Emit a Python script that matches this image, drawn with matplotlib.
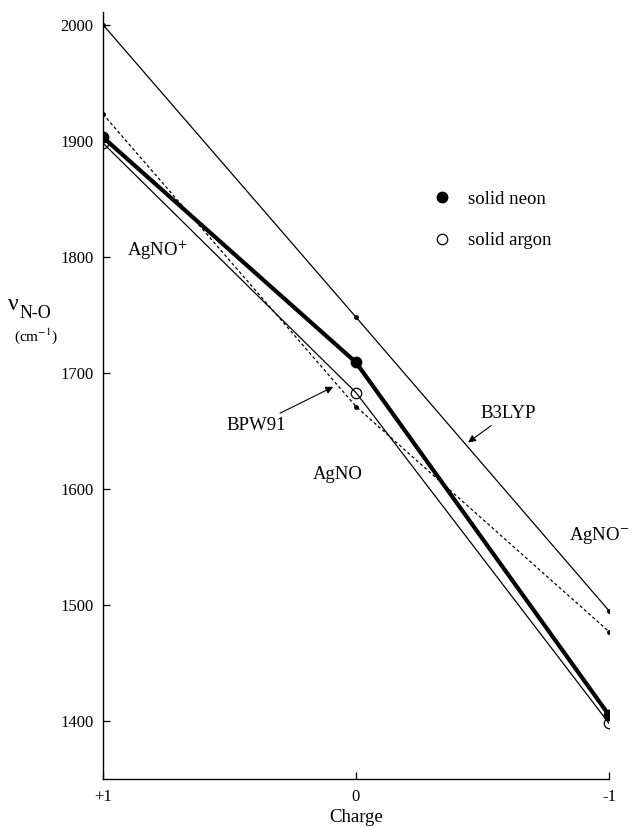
import matplotlib.pyplot as plt
from matplotlib.lines import Line2D

plt.rcParams['font.family'] = ['Liberation Serif', 'DejaVu Serif']
plt.rcParams['mathtext.fontset'] = 'stix'

# charge of the species, +1 = AgNO+, 0 = AgNO, -1 = AgNO-
charge = [1, 0, -1]
charge_labels = ['+1', '0', '-1']
neon = [1903, 1709, 1405]     # solid neon
argon = [1898, 1683, 1398]    # solid argon
b3lyp = [2000, 1748, 1495]    # B3LYP calc
bpw91 = [1923, 1671, 1477]    # BPW91 calc
yticks = [1400, 1500, 1600, 1700, 1800, 1900, 2000]

fig = plt.figure(figsize=(6.33, 8.27), dpi=100)
ax = fig.add_axes([103/633, 48/827, 506/633, 767/827])

# calculated lines
ax.plot(charge, b3lyp, color='k', lw=0.9, marker='o', ms=2.5)
ax.plot(charge, bpw91, color='k', lw=0.9, ls=(0, (2.5, 2)), marker='o', ms=2.5)

# experimental
ax.plot(charge, argon, color='k', lw=0.9, marker='o', ms=7.5, mfc='none', mew=0.9, zorder=3)
ax.plot(charge, neon, color='k', lw=3.0, marker='o', ms=7.5, zorder=4)

ax.set_xlim(1, -1)
ax.set_ylim(1350, 2011)
ax.set_xticks(charge)
ax.set_xticklabels(charge_labels, fontsize=12.5)
ax.set_yticks(yticks)
ax.tick_params(direction='in', length=5, width=0.9, labelsize=12, pad=7)
ax.spines['top'].set_visible(False)
ax.spines['right'].set_visible(False)
ax.spines['left'].set_linewidth(1.0)
ax.spines['bottom'].set_linewidth(1.0)
ax.set_xlabel('Charge', fontsize=13.5, labelpad=3)

# y label
fig.text(8/633, 1 - 304/827, 'ν', fontsize=17, ha='left', va='center')
fig.text(20/633, 1 - 314/827, 'N-O', fontsize=13, ha='left', va='center')
fig.text(36/633, 1 - 336/827, '(cm$^{-1}$)', fontsize=11, ha='center', va='center')

# species labels
ax.text(0.787, 1806, 'AgNO$^{+}$', fontsize=13.5, ha='center', va='center')
ax.text(0.071, 1612, 'AgNO', fontsize=13.5, ha='center', va='center')
ax.text(-0.962, 1560, 'AgNO$^{-}$', fontsize=13.5, ha='center', va='center')

arrow = dict(arrowstyle='-|>', color='k', lw=0.8, mutation_scale=11, shrinkA=1, shrinkB=0)
ax.annotate('BPW91', xy=(0.09, 1688), xytext=(0.277, 1655), fontsize=13.5,
            ha='right', va='center', arrowprops=arrow)
ax.annotate('B3LYP', xy=(-0.443, 1640), xytext=(-0.49, 1665), fontsize=13.5,
            ha='left', va='center', arrowprops=arrow)

handles = [Line2D([], [], color='k', ls='none', marker='o', ms=7.5),
           Line2D([], [], color='k', ls='none', marker='o', ms=7.5, mfc='none', mew=0.9)]
fig.legend(handles, ['solid neon', 'solid argon'], loc='center left',
           bbox_to_anchor=(434/633, 1 - 220/827), frameon=False, fontsize=13.5,
           handlelength=0.8, handletextpad=1.0, labelspacing=1.3,
           borderpad=0, borderaxespad=0)

fig.savefig('out.png', dpi=100)
